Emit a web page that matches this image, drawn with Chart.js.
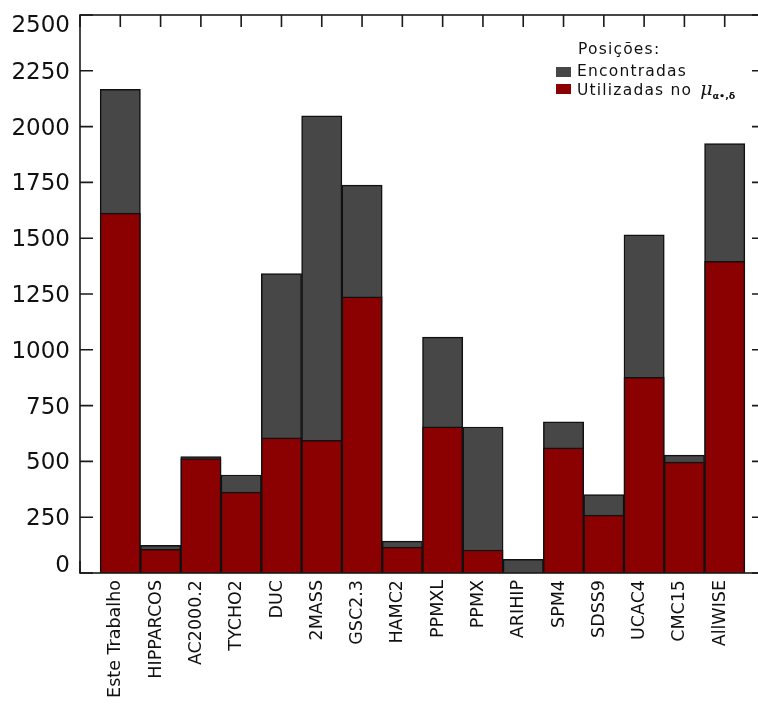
<!DOCTYPE html>
<html>
<head>
<meta charset="utf-8">
<script src="https://cdn.jsdelivr.net/npm/chart.js@4/dist/chart.umd.min.js"></script>
<style>
  body { margin: 0; background: #fff; }
  #wrap { position: relative; width: 758px; height: 711px; overflow: hidden; }
  #wrap canvas { position: absolute; left: 0; top: 0; }
  .leg { position: absolute; font-family: "DejaVu Sans"; font-size: 15.5px; line-height: 16px;
         letter-spacing: 1.2px; color: #111; white-space: nowrap; }
  .leg i { font-family: "DejaVu Serif"; font-size: 19px; letter-spacing: 0; margin-left: 8px; }
  .leg sub { font-size: 9.5px; font-weight: bold; letter-spacing: 0; vertical-align: -4px; }
  .box { position: absolute; width: 15px; height: 10px; }
</style>
</head>
<body>
<div id="wrap">
  <canvas id="posicoes-chart" width="766" height="711"></canvas>
  <div id="legenda"></div>
</div>
<script>
// catalogos e numero de posicoes
const catalogos = ['Este Trabalho', 'HIPPARCOS', 'AC2000.2', 'TYCHO2', 'DUC', '2MASS', 'GSC2.3', 'HAMC2',
                   'PPMXL', 'PPMX', 'ARIHIP', 'SPM4', 'SDSS9', 'UCAC4', 'CMC15', 'AllWISE'];
const encontradas = [2167, 124, 522, 439, 1341, 2048, 1738, 143, 1057, 654, 61, 677, 351, 1515, 528, 1924];
const utilizadas  = [1612, 106, 513, 362, 606, 594, 1237, 116, 655, 103, 0, 561, 259, 877, 497, 1396];
const yTicks = [0, 250, 500, 750, 1000, 1250, 1500, 1750, 2000, 2250, 2500];

const cinza = '#474747';
const vermelho = '#8b0000';

// frame with inward ticks, like the original plot
const moldura = {
    id: 'moldura',
    beforeDatasetsDraw(chart) {
        const {ctx, chartArea: a, scales} = chart;
        ctx.save();
        ctx.strokeStyle = '#1a1a1a';
        ctx.lineWidth = 1.6;
        ctx.beginPath();
        yTicks.forEach(v => {
            const y = scales.y.getPixelForValue(v);
            ctx.moveTo(a.left, y); ctx.lineTo(a.left + 13, y);
            ctx.moveTo(a.right, y); ctx.lineTo(a.right - 13, y);
        });
        for (let i = -1; i <= catalogos.length; i++) {
            const x = scales.x.getPixelForValue(i);
            ctx.moveTo(x, a.top); ctx.lineTo(x, a.top + 12);
            ctx.moveTo(x, a.bottom); ctx.lineTo(x, a.bottom - 12);
        }
        ctx.stroke();
        ctx.restore();
    },
    afterDatasetsDraw(chart) {
        const {ctx, chartArea: a} = chart;
        ctx.save();
        ctx.strokeStyle = '#1a1a1a';
        ctx.lineWidth = 1.6;
        ctx.strokeRect(a.left, a.top, a.right - a.left, a.bottom - a.top);
        ctx.restore();
    }
};

const posicoesChart = new Chart(document.querySelector('#posicoes-chart').getContext('2d'), {
    type: 'bar',
    data: {
        labels: catalogos.map((c, i) => i),
        datasets: [
            {
                label: 'Encontradas',
                data: encontradas.map((v, i) => ({x: i, y: v})),
                backgroundColor: cinza,
                borderColor: '#111',
                borderWidth: 1.5,
                grouped: false,
                order: 2
            },
            {
                label: 'Utilizadas no',
                data: utilizadas.map((v, i) => ({x: i, y: v})),
                backgroundColor: vermelho,
                borderColor: '#111',
                borderWidth: 1.5,
                grouped: false,
                order: 1
            }
        ]
    },
    options: {
        responsive: false,
        animation: false,
        barPercentage: 1,
        categoryPercentage: 1,
        layout: { padding: { top: 15, right: 1, left: 0, bottom: 0 } },
        plugins: { legend: { display: false }, tooltip: { enabled: false } },
        scales: {
            x: {
                type: 'linear',
                offset: false,
                min: -1,
                max: 16,
                grid: { display: false, drawTicks: false, offset: false },
                border: { display: false },
                afterBuildTicks(scale) {
                    scale.ticks = catalogos.map((c, i) => ({value: i}));
                },
                afterFit(scale) {
                    scale.height = 138;
                    scale.paddingLeft = 0;
                    scale.paddingRight = 0;
                },
                ticks: {
                    autoSkip: false,
                    minRotation: 90,
                    maxRotation: 90,
                    padding: 7,
                    labelOffset: -4.5,
                    color: '#111',
                    font: { family: 'DejaVu Sans', size: 17.5 },
                    callback: v => catalogos[v]
                }
            },
            y: {
                min: 0,
                max: 2500,
                grid: { display: false, drawTicks: false },
                border: { display: false },
                afterFit(scale) {
                    scale.width = 80;
                    scale.paddingTop = 0;
                    scale.paddingBottom = 0;
                },
                ticks: {
                    stepSize: 250,
                    padding: 10,
                    labelOffset: 2,
                    color: '#111',
                    font: { family: 'DejaVu Sans', size: 23, lineHeight: 0.8 },
                    callback: v => v === 2500 ? ['', String(v)] : (v === 0 ? [String(v), ''] : String(v))
                }
            }
        }
    },
    plugins: [moldura]
});

// legend as html, built from the datasets (needs the subscript)
function desenhaLegenda(chart) {
    const leg = document.getElementById('legenda');
    const ds = chart.data.datasets;
    let html = '<div class="leg" style="left:578px;top:40.5px">Posições:</div>';
    const tops = [62.5, 79.8];
    ds.forEach((d, i) => {
        html += '<div class="box" style="left:556px;top:' + (tops[i] + 4) + 'px;background:' + d.backgroundColor + '"></div>';
        let txt = d.label;
        if (i === 1) txt += '<i>μ</i><sub>α•,δ</sub>';
        html += '<div class="leg" style="left:577px;top:' + tops[i] + 'px">' + txt + '</div>';
    });
    leg.innerHTML = html;
}
desenhaLegenda(posicoesChart);
</script>
</body>
</html>
